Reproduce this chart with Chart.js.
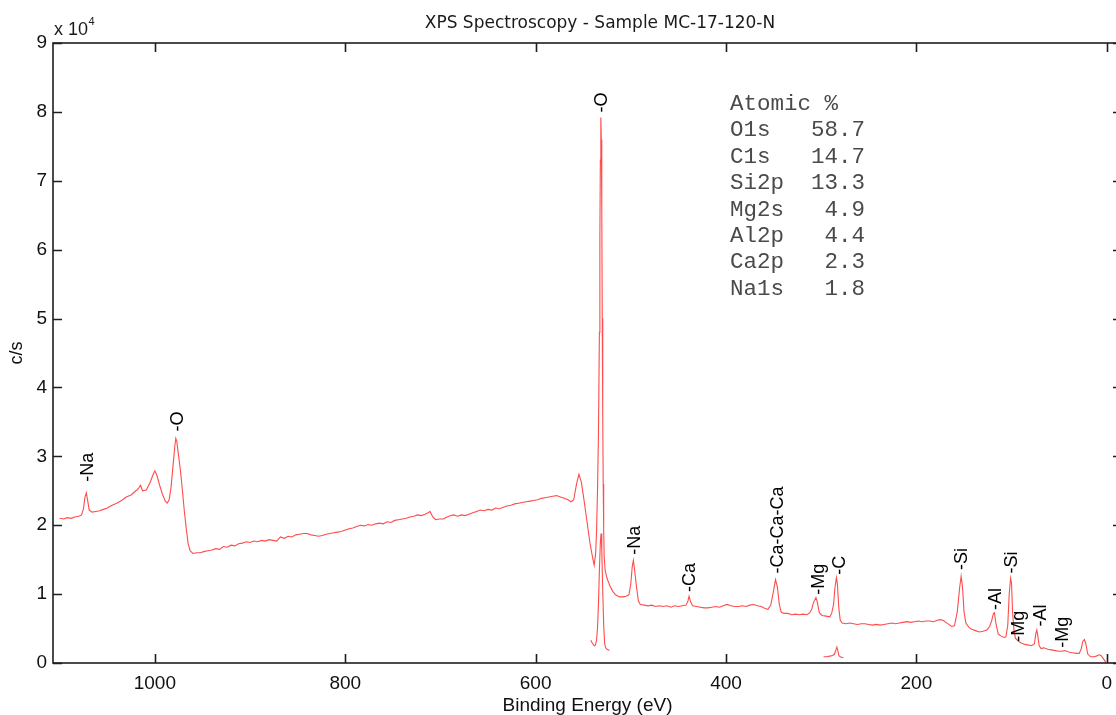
<!DOCTYPE html>
<html>
<head>
<meta charset="utf-8">
<title>XPS Spectroscopy - Sample MC-17-120-N</title>
<script src="https://cdn.jsdelivr.net/npm/chart.js@4.4.1/dist/chart.umd.min.js"></script>
<style>
  html, body { margin: 0; padding: 0; background: #fff; overflow: hidden; }
  #wrap { position: relative; width: 1116px; height: 715px; overflow: hidden; }
  #xps { position: absolute; left: 0; top: 0; }
</style>
</head>
<body>
<div id="wrap"><canvas id="xps" width="1130" height="725"></canvas></div>
<script>
// survey scan: [binding energy eV, counts per second]
const survey = [
  [1100, 21000], [1096, 20900], [1092, 21100], [1088, 21000], [1084, 21200],
  [1080, 21300], [1077, 21500], [1075, 22400], [1073.5, 24000], [1072, 24700],
  [1070.5, 23500], [1069, 22200], [1066, 21900], [1062, 22000], [1058, 22100],
  [1054, 22300], [1050, 22500], [1045, 22900], [1040, 23200], [1035, 23600],
  [1030, 24100], [1025, 24400], [1020, 25000], [1017, 25400], [1015, 25800],
  [1013, 25000], [1009, 25100], [1005, 26200], [1002, 27300], [1000, 27900],
  [998, 27300], [995, 25800], [992, 24500], [989, 23500], [987, 23200],
  [985, 23700], [983, 25500], [981, 28500], [979, 31500], [978, 32600],
  [977, 32200], [975, 30000], [973, 27800], [971, 25000], [969, 22000],
  [967, 19500], [965, 17300], [963, 16300], [960, 15900], [956, 16000],
  [952, 16000], [948, 16200], [944, 16300], [940, 16400], [936, 16600],
  [932, 16500], [928, 16900], [924, 16800], [920, 17100], [916, 17000],
  [912, 17300], [908, 17400], [904, 17600], [900, 17500], [896, 17700],
  [892, 17600], [888, 17800], [884, 17700], [880, 17900], [876, 17800],
  [872, 17700], [868, 18300], [864, 18100], [860, 18400], [856, 18300],
  [852, 18600], [848, 18700], [844, 18800], [840, 18800], [836, 18600],
  [832, 18500], [828, 18400], [824, 18500], [820, 18700], [816, 18800],
  [812, 18900], [808, 19000], [804, 19100], [800, 19300], [796, 19500],
  [792, 19600], [788, 19800], [784, 20000], [780, 19900], [776, 20100],
  [772, 20000], [768, 20200], [764, 20300], [760, 20200], [756, 20500],
  [752, 20400], [748, 20700], [744, 20800], [740, 20900], [736, 21000],
  [732, 21200], [728, 21300], [724, 21500], [720, 21400], [716, 21600],
  [713, 21800], [711, 22000], [708, 21200], [705, 20800], [701, 20900],
  [697, 20900], [693, 21200], [689, 21400], [686, 21500], [682, 21300],
  [678, 21500], [674, 21400], [670, 21600], [666, 21800], [662, 22000],
  [658, 22200], [654, 22100], [650, 22300], [646, 22200], [642, 22500],
  [638, 22400], [634, 22600], [630, 22800], [626, 22900], [622, 23100],
  [618, 23200], [614, 23300], [610, 23400], [606, 23500], [602, 23600],
  [598, 23700], [594, 23900], [590, 24000], [586, 24100], [582, 24200],
  [578, 24300], [574, 24100], [570, 23900], [566, 23700], [563, 23400],
  [560, 23700], [557, 26000], [554.5, 27400], [552, 26300], [549, 23500],
  [546, 20500], [543, 17500], [540, 15200], [538.5, 14200], [537, 15800],
  [536, 19000], [535, 25000], [534, 33000], [533, 48000], [532.5, 62000],
  [532, 73000], [531.5, 79200], [531, 76000], [530.5, 66000], [530, 50000],
  [529.5, 36000], [529, 26000], [528.5, 19500], [528, 15500], [527, 13500],
  [525, 12300], [522, 11200], [519, 10400], [516, 9900], [512, 9600],
  [508, 9600], [505, 9700], [502, 9900], [500, 11500], [498.5, 14000],
  [497.3, 14900], [496, 13500], [494, 11000], [492, 9000], [490, 8500],
  [486, 8400], [482, 8300], [478, 8400], [474, 8200], [470, 8300],
  [466, 8200], [462, 8300], [458, 8100], [454, 8300], [450, 8200],
  [446, 8300], [442, 8400], [440, 9000], [438.8, 9700], [437, 8800],
  [435, 8300], [431, 8200], [427, 8100], [423, 8000], [419, 8000],
  [415, 8100], [411, 8200], [407, 8100], [403, 8300], [399, 8500],
  [395, 8300], [391, 8200], [387, 8200], [383, 8300], [379, 8200],
  [375, 8400], [371, 8500], [367, 8300], [363, 8200], [359, 7900],
  [356, 7800], [353, 8400], [350, 10500], [348, 12100], [346, 11000],
  [344, 8500], [342, 7400], [339, 7200], [335, 7200], [331, 7000],
  [327, 7100], [323, 7000], [319, 7100], [315, 7000], [312, 7300],
  [310, 7800], [308, 8800], [305.5, 9500], [304, 8800], [302, 7300],
  [299, 6900], [295, 6800], [291, 6700], [289, 7200], [287, 8500],
  [285.5, 11000], [284, 12400], [283, 11500], [281.5, 8000], [280, 6200],
  [278, 5800], [274, 5700], [270, 5800], [266, 5700], [262, 5600],
  [258, 5700], [254, 5700], [250, 5600], [246, 5500], [242, 5600],
  [238, 5500], [234, 5600], [230, 5700], [226, 5800], [222, 5700],
  [218, 5800], [214, 5900], [210, 6000], [206, 5900], [202, 6000],
  [198, 6100], [194, 6000], [190, 6100], [186, 6100], [182, 6000],
  [178, 6200], [175, 6300], [172, 6200], [169, 5900], [166, 5600],
  [163, 5300], [160, 5400], [157, 7500], [154.5, 11000], [153, 12600],
  [151.5, 11000], [150, 7500], [148, 5800], [145, 5200], [142, 4900],
  [138, 4700], [134, 4500], [130, 4600], [126, 4800], [123, 5300],
  [121, 6100], [119, 7200], [118, 7300], [116.5, 5800], [114, 4200],
  [111, 3900], [108, 3700], [106, 3800], [104, 5500], [102.5, 10000],
  [101, 12300], [100, 11500], [99, 7500], [97.5, 4800], [96, 3600],
  [93, 3200], [90, 2900], [86, 2700], [82, 2600], [79, 2500],
  [76, 2800], [74.5, 4300], [73.5, 4800], [72.5, 4000], [71, 2500],
  [69, 2100], [66, 2200], [62, 2000], [58, 1900], [54, 1800],
  [50, 1700], [47, 1700], [44, 1800], [40, 1600], [36, 1500],
  [32, 1400], [29, 1400], [27, 2000], [25, 3200], [23.5, 3400],
  [22, 2800], [20, 1300], [17, 900], [14, 900], [11, 1000],
  [8, 1200], [6, 1100], [4, 700], [2, 300], [1, 100],
];

// high resolution windows plotted on the same axes
const o1sWindow = [
  [542, 3300], [540.5, 2900], [539, 2600], [538, 2500], [537, 2700],
  [536, 3300], [535, 5000], [534, 8500], [533, 13500], [532, 17500],
  [531.3, 18800], [530.5, 16500], [529.5, 10500], [528.5, 5500], [527.5, 2900],
  [526.5, 2200], [525, 2000], [523.5, 1900], [522.5, 1800],
];
const c1sWindow = [
  [297.5, 900], [294, 900], [291, 1000], [288, 1100], [286, 1300],
  [284.5, 1900], [283.5, 2300], [282.5, 1800], [281.5, 1100], [280, 900],
  [278, 800], [276.5, 800],
];

// peak markers: label, energy, counts where the text starts
const peakNames = ["-Na", "-O", "-O", "-Na", "-Ca", "-Ca-Ca-Ca", "-Mg", "-C", "-Si", "-Al", "-Si", "-Mg", "-Al", "-Mg"];
const peakEnergy = [1070, 975.6, 530.5, 496, 438, 345, 302, 280, 152.2, 116.7, 99.3, 92, 69, 46.2];
const peakHeight = [26300, 33600, 79900, 15700, 10300, 13000, 9900, 12800, 13500, 7700, 13000, 3100, 5300, 2200];

// quantification table
const atomicOrbitals = ["O1s", "C1s", "Si2p", "Mg2s", "Al2p", "Ca2p", "Na1s"];
const atomicPercent = [58.7, 14.7, 13.3, 4.9, 4.4, 2.3, 1.8];

const energyTicks = [1000, 800, 600, 400, 200, 0];
const countTicks = [0, 10000, 20000, 30000, 40000, 50000, 60000, 70000, 80000, 90000];

const lineColor = "rgba(255, 45, 45, 0.85)";
const toXY = (pts) => pts.map((p) => ({ x: p[0], y: p[1] }));

const lineSet = (pts) => ({
  data: toXY(pts),
  borderColor: lineColor,
  borderWidth: 1.1,
  pointRadius: 0,
  showLine: true,
  fill: false,
  tension: 0,
});

const decorations = {
  id: "decorations",
  afterDatasetsDraw(chart) {
    const { ctx, chartArea: a, scales } = chart;
    const x = scales.x;
    const y = scales.y;
    const tick = 9;
    ctx.save();

    // axes box with inward ticks
    ctx.strokeStyle = "#1e1e1e";
    ctx.lineWidth = 1.6;
    ctx.strokeRect(a.left, a.top, a.right - a.left, a.bottom - a.top);
    ctx.beginPath();
    energyTicks.forEach((v) => {
      const px = Math.round(x.getPixelForValue(v)) + 0.5;
      ctx.moveTo(px, a.bottom);
      ctx.lineTo(px, a.bottom - tick);
      ctx.moveTo(px, a.top);
      ctx.lineTo(px, a.top + tick);
    });
    countTicks.forEach((v) => {
      const py = Math.round(y.getPixelForValue(v)) + 0.5;
      ctx.moveTo(a.left, py);
      ctx.lineTo(a.left + tick, py);
      ctx.moveTo(a.right, py);
      ctx.lineTo(a.right - tick, py);
    });
    ctx.stroke();

    // title
    ctx.fillStyle = "#1a1a1a";
    ctx.font = '17px "DejaVu Sans", Verdana, sans-serif';
    ctx.textAlign = "center";
    ctx.textBaseline = "alphabetic";
    ctx.fillText("XPS Spectroscopy - Sample MC-17-120-N", a.left + 547, 28);

    // exponent note
    ctx.textAlign = "left";
    ctx.font = '18px "Liberation Sans", Arial, sans-serif';
    ctx.fillText("x 10", a.left + 1, 35);
    const w = ctx.measureText("x 10").width;
    ctx.font = '11px "Liberation Sans", Arial, sans-serif';
    ctx.fillText("4", a.left + 1 + w + 0.5, 25);

    // peak labels, rotated
    ctx.font = '18px "Liberation Sans", Arial, sans-serif';
    ctx.fillStyle = "#000";
    ctx.textBaseline = "middle";
    peakNames.forEach((name, i) => {
      const px = x.getPixelForValue(peakEnergy[i]);
      const py = y.getPixelForValue(peakHeight[i]);
      ctx.save();
      ctx.translate(px, py);
      ctx.rotate(-Math.PI / 2);
      ctx.fillText(name, 0, 0);
      ctx.restore();
    });

    // atomic % table
    ctx.fillStyle = "#4a4a4a";
    ctx.font = '22.5px "Courier New", "Liberation Mono", monospace';
    ctx.textBaseline = "alphabetic";
    const tx = a.left + 677;
    const ty = 110;
    const step = 26.4;
    ctx.fillText("Atomic %", tx, ty);
    atomicOrbitals.forEach((orb, i) => {
      const row = orb.padEnd(4, " ") + atomicPercent[i].toFixed(1).padStart(6, " ");
      ctx.fillText(row, tx, ty + step * (i + 1));
    });

    ctx.restore();
  },
};

const canvas = document.getElementById("xps");
new Chart(canvas.getContext("2d"), {
  type: "scatter",
  data: {
    datasets: [lineSet(survey), lineSet(o1sWindow), lineSet(c1sWindow)],
  },
  options: {
    responsive: false,
    animation: false,
    devicePixelRatio: 1,
    layout: { padding: { top: 43, right: 8, left: 0, bottom: 0 } },
    plugins: {
      legend: { display: false },
      tooltip: { enabled: false },
      title: { display: false },
    },
    scales: {
      x: {
        type: "linear",
        reverse: true,
        min: -16,
        max: 1107,
        grid: { display: false, drawTicks: false },
        border: { display: false },
        afterBuildTicks: (scale) => {
          scale.ticks = energyTicks.map((v) => ({ value: v }));
        },
        afterFit: (scale) => {
          scale.height = 62;
        },
        ticks: {
          color: "#111",
          padding: 9,
          maxRotation: 0,
          autoSkip: false,
          font: { family: "'Liberation Sans', Arial, sans-serif", size: 19 },
          callback: (v) => String(v),
        },
        title: {
          display: true,
          text: "Binding Energy (eV)",
          color: "#111",
          padding: { top: 0, bottom: 8 },
          font: { family: "'Liberation Sans', Arial, sans-serif", size: 19 },
        },
      },
      y: {
        type: "linear",
        min: 0,
        max: 90000,
        grid: { display: false, drawTicks: false },
        border: { display: false },
        afterBuildTicks: (scale) => {
          scale.ticks = countTicks.map((v) => ({ value: v }));
        },
        afterFit: (scale) => {
          scale.width = 53;
        },
        ticks: {
          color: "#111",
          padding: 6,
          autoSkip: false,
          font: { family: "'Liberation Sans', Arial, sans-serif", size: 19 },
          callback: (v) => String(v / 10000),
        },
        title: {
          display: true,
          text: "c/s",
          color: "#111",
          padding: { top: 6, bottom: 0 },
          font: { family: "'Liberation Sans', Arial, sans-serif", size: 18 },
        },
      },
    },
  },
  plugins: [decorations],
});
</script>
</body>
</html>
